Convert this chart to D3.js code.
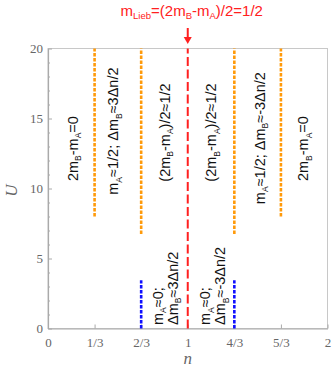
<!DOCTYPE html>
<html>
<head>
<meta charset="utf-8">
<script src="https://cdn.jsdelivr.net/npm/d3@7"></script>
<style>
body { margin: 0; background: #fff; }
</style>
</head>
<body>
<svg id="chart" width="332" height="375"></svg>
<script>
// phase boundaries, n vs U
const xTicks = [0, 1/3, 2/3, 1, 4/3, 5/3, 2];
const xTickLabels = ["0", "1/3", "2/3", "1", "4/3", "5/3", "2"];
const yTicks = [0, 5, 10, 15, 20];

// [n, Ustart, Uend]
const orangeLines = [[1/3, 8, 20], [2/3, 6.75, 20], [4/3, 6.75, 20], [5/3, 8, 20]];
const blueLines = [[2/3, 0, 3.45], [4/3, 0, 3.45]];
const redLine = [1, 0, 20];

// region labels: pieces are [text, isSub]
const upperLabels = [
  {n: 0.18, U: 12.85, parts: [["2m",0],["B",1],["-m",0],["A",1],["=0",0]]},
  {n: 0.47, U: 14.1, parts: [["m",0],["A",1],["≈1/2; Δm",0],["B",1],["≈3Δn/2",0]]},
  {n: 0.84, U: 14, parts: [["(2m",0],["B",1],["-m",0],["A",1],[")/2≈1/2",0]]},
  {n: 1.17, U: 14, parts: [["(2m",0],["B",1],["-m",0],["A",1],[")/2≈1/2",0]]},
  {n: 1.52, U: 13.6, parts: [["m",0],["A",1],["≈1/2; Δm",0],["B",1],["≈-3Δn/2",0]]},
  {n: 1.83, U: 12.85, parts: [["2m",0],["B",1],["-m",0],["A",1],["=0",0]]}
];
const lowerLabels = [
  {n: 0.79, U: 0.25, parts: [["m",0],["A",1],["≈0;",0]]},
  {n: 0.895, U: 0.25, parts: [["Δm",0],["B",1],["≈3Δn/2",0]]},
  {n: 1.13, U: 0.25, parts: [["m",0],["A",1],["≈0;",0]]},
  {n: 1.235, U: 0.25, parts: [["Δm",0],["B",1],["≈-3Δn/2",0]]}
];

const svg = d3.select("#chart");
const margin = {left: 48, right: 4.5, top: 48.5, bottom: 46.5};
const W = 332, H = 375;

const x = d3.scaleLinear().domain([0, 2]).range([margin.left, W - margin.right]);
const y = d3.scaleLinear().domain([0, 20]).range([H - margin.bottom, margin.top]);

const axisColor = "#aaa";
const labelColor = "#666";
const fs = 14.5, subFs = 8.5;

// frame
svg.append("rect")
  .attr("x", x(0)).attr("y", y(20))
  .attr("width", x(2) - x(0)).attr("height", y(0) - y(20))
  .attr("fill", "none").attr("stroke", "#c8c8c8").attr("stroke-width", 1);

// axes with inward ticks
const xAxis = d3.axisBottom(x).tickValues(xTicks)
  .tickFormat((d, i) => xTickLabels[i]).tickSizeInner(-4).tickSizeOuter(0).tickPadding(9);
const gx = svg.append("g").attr("transform", `translate(0,${y(0)})`).call(xAxis);

const yAxis = d3.axisLeft(y).tickValues(d3.range(0, 21, 1))
  .tickFormat(d => yTicks.includes(d) ? d : "").tickSizeInner(-2).tickSizeOuter(0).tickPadding(5);
const gy = svg.append("g").attr("transform", `translate(${x(0)},0)`).call(yAxis);
gy.selectAll(".tick line").attr("x2", d => yTicks.includes(d) ? 4 : 2);

[gx, gy].forEach(g => {
  g.select(".domain").attr("stroke", axisColor).attr("stroke-width", 1.2);
  g.selectAll(".tick line").attr("stroke", axisColor);
  g.selectAll(".tick text")
    .attr("fill", labelColor)
    .style("font-family", "'Liberation Serif', 'DejaVu Serif', serif")
    .style("font-size", "13px");
});

// axis titles
svg.append("text")
  .attr("transform", `translate(${x(1)},${H - 11})`)
  .attr("text-anchor", "middle")
  .attr("fill", labelColor)
  .style("font-family", "'Liberation Serif', serif")
  .style("font-style", "italic")
  .style("font-size", "17px")
  .text("n");

svg.append("text")
  .attr("transform", `translate(17,${y(10) + 2}) rotate(-90)`)
  .attr("text-anchor", "middle")
  .attr("fill", labelColor)
  .style("font-family", "'Liberation Serif', serif")
  .style("font-style", "italic")
  .style("font-size", "17px")
  .text("U");

// boundary lines
const lines = svg.append("g");
lines.selectAll(".orange").data(orangeLines).enter().append("line")
  .attr("x1", d => x(d[0])).attr("x2", d => x(d[0]))
  .attr("y1", d => y(d[1])).attr("y2", d => y(d[2]))
  .attr("stroke", "#ff9a0a").attr("stroke-width", 2.6)
  .attr("stroke-dasharray", "3.5,1.5");

lines.selectAll(".blue").data(blueLines).enter().append("line")
  .attr("x1", d => x(d[0])).attr("x2", d => x(d[0]))
  .attr("y1", d => y(d[1])).attr("y2", d => y(d[2]))
  .attr("stroke", "#1010ff").attr("stroke-width", 2.6)
  .attr("stroke-dasharray", "3.5,1.5");

lines.append("line")
  .attr("x1", x(redLine[0])).attr("x2", x(redLine[0]))
  .attr("y1", y(redLine[1])).attr("y2", y(redLine[2]))
  .attr("stroke", "#ff2020").attr("stroke-width", 2)
  .attr("stroke-dasharray", "9,3.5");

// arrow + title
const ax = x(1);
svg.append("line")
  .attr("x1", ax).attr("x2", ax).attr("y1", 28).attr("y2", 38)
  .attr("stroke", "#ff2020").attr("stroke-width", 2);
svg.append("path")
  .attr("d", `M${ax - 4},37 L${ax + 4},37 L${ax},44 Z`)
  .attr("fill", "#ff2020");

const title = svg.append("text")
  .attr("x", ax + 4).attr("y", 19)
  .attr("text-anchor", "middle")
  .attr("fill", "#ff2020")
  .style("font-family", "'Liberation Sans', Arial, sans-serif")
  .style("font-size", "15px");
[["m",0],["Lieb",1],["=(2m",0],["B",1],["-m",0],["A",1],[")/2=1/2",0]].forEach(p => {
  title.append("tspan")
    .attr("dy", p[1] ? 3 : (title.selectAll("tspan").size() ? -3 : 0))
    .style("font-size", p[1] ? "9.5px" : "15px")
    .text(p[0]);
});

function drawLabel(d, anchor) {
  const t = svg.append("text")
    .attr("transform", `translate(${x(d.n) + 4.5},${y(d.U)}) rotate(-90)`)
    .attr("text-anchor", anchor)
    .attr("fill", "#111")
    .style("font-family", "'Liberation Sans', Arial, sans-serif")
    .style("font-size", fs + "px");
  let prevSub = false;
  d.parts.forEach(p => {
    const sub = !!p[1];
    let dy = 0;
    if (sub && !prevSub) dy = 3.5;
    if (!sub && prevSub) dy = -3.5;
    t.append("tspan").attr("dy", dy)
      .style("font-size", (sub ? subFs : fs) + "px")
      .text(p[0]);
    prevSub = sub;
  });
}
upperLabels.forEach(d => drawLabel(d, "middle"));
lowerLabels.forEach(d => drawLabel(d, "start"));
</script>
</body>
</html>
